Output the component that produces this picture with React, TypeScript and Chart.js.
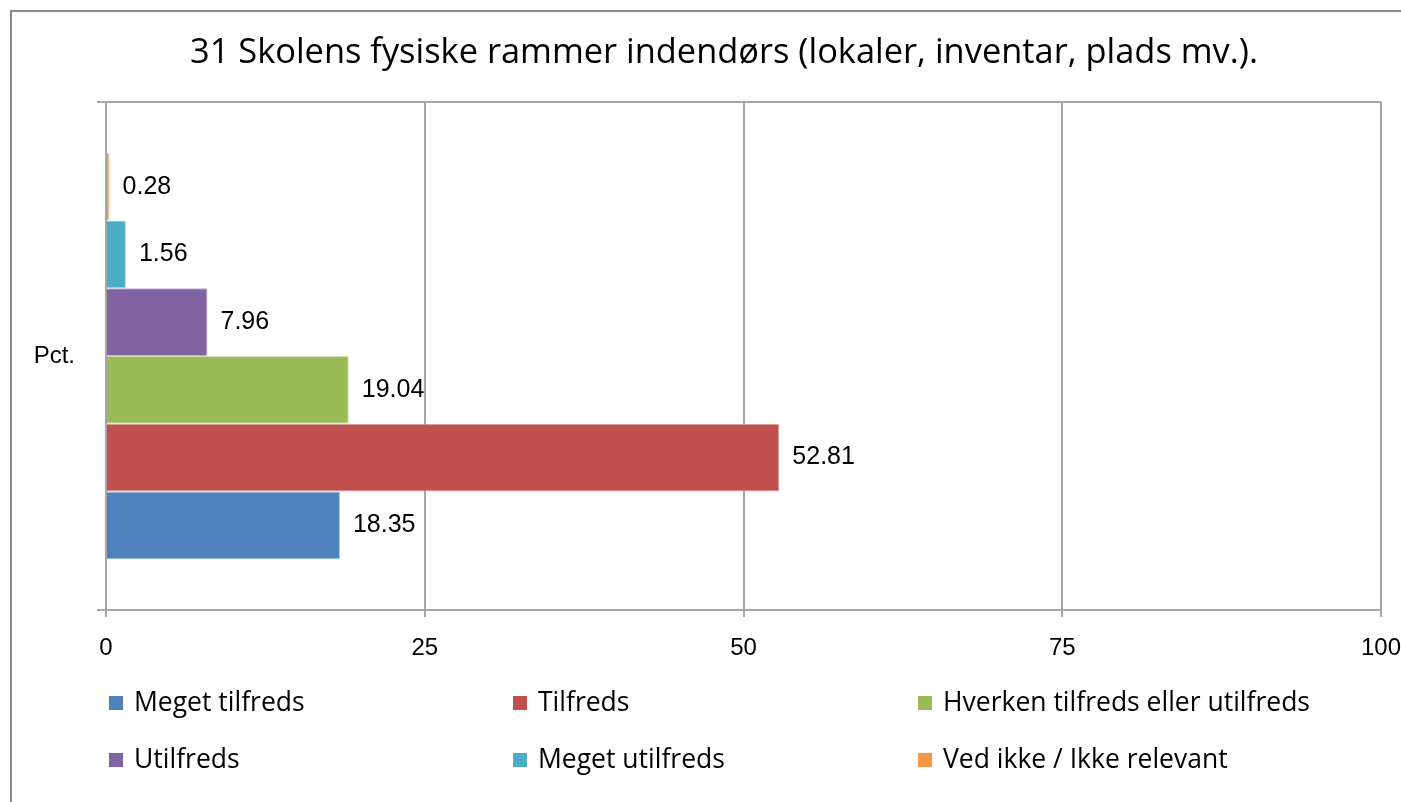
import React, { useEffect, useRef } from "react";
import { Chart, registerables } from "chart.js";

Chart.register(...registerables);

const TITLE = "31 Skolens fysiske rammer indendørs (lokaler, inventar, plads mv.).";
const CATEGORIES = ["Pct."];
const SERIES_LABELS = [
  "Meget tilfreds",
  "Tilfreds",
  "Hverken tilfreds eller utilfreds",
  "Utilfreds",
  "Meget utilfreds",
  "Ved ikke / Ikke relevant",
];
const SERIES_VALUES = [18.35, 52.81, 19.04, 7.96, 1.56, 0.28];
const SERIES_COLORS = ["#4F81BD", "#C0504D", "#9BBB59", "#8064A2", "#4BACC6", "#F79646"];
const SERIES_EDGES = ["#A9C0DE", "#E0A8A6", "#CDDDAC", "#BFB2D0", "#A5D5E2", "#FBCAA2"];
const X_TICKS = [0, 25, 50, 75, 100];

const GRID = "#A6A6A6";

const overlayPlugin = {
  id: "overlay",
  beforeDraw(chart: any) {
    const ctx = chart.ctx;
    ctx.save();
    ctx.strokeStyle = "#8C8C8C";
    ctx.lineWidth = 2;
    ctx.beginPath();
    ctx.moveTo(11, 802);
    ctx.lineTo(11, 11);
    ctx.lineTo(1401, 11);
    ctx.stroke();
    ctx.restore();
  },
  afterDatasetsDraw(chart: any) {
    const ctx = chart.ctx;
    ctx.save();
    ctx.font = "25px 'Liberation Sans', Arial, sans-serif";
    ctx.fillStyle = "#000";
    ctx.textAlign = "left";
    ctx.textBaseline = "middle";
    chart.data.datasets.forEach((ds: any, i: number) => {
      const meta = chart.getDatasetMeta(i);
      meta.data.forEach((bar: any, j: number) => {
        const v = ds.data[j];
        ctx.fillText(v.toFixed(2), bar.x + 13, bar.y);
      });
    });
    ctx.restore();
  },
  afterDraw(chart: any) {
    const ctx = chart.ctx;
    ctx.save();
    // title
    ctx.font = "34.4px 'Open Sans', sans-serif";
    ctx.fillStyle = "#000";
    ctx.textAlign = "center";
    ctx.textBaseline = "middle";
    ctx.fillText(TITLE, 724, 53);
    // legend
    ctx.font = "26.5px 'Open Sans', sans-serif";
    ctx.textAlign = "left";
    const colX = [109, 513, 918];
    const rowY = [703, 760];
    SERIES_LABELS.forEach((label, i) => {
      const x = colX[i % 3];
      const y = rowY[Math.floor(i / 3)];
      ctx.fillStyle = SERIES_COLORS[i];
      ctx.fillRect(x, y - 7, 14, 14);
      ctx.fillStyle = "#000";
      ctx.fillText(label, x + 25, y);
    });
    ctx.restore();
  },
};

export default function App() {
  const canvasRef = useRef<HTMLCanvasElement | null>(null);

  useEffect(() => {
    if (!canvasRef.current) return;
    const order = SERIES_LABELS.map((_, i) => i).reverse();
    const chart = new Chart(canvasRef.current, {
      type: "bar",
      data: {
        labels: CATEGORIES,
        datasets: order.map((i) => ({
          label: SERIES_LABELS[i],
          data: [SERIES_VALUES[i]],
          backgroundColor: SERIES_COLORS[i],
          borderColor: SERIES_EDGES[i],
          borderWidth: 1,
          barPercentage: 1,
          categoryPercentage: 0.8,
        })),
      },
      options: {
        indexAxis: "y",
        animation: false,
        responsive: true,
        maintainAspectRatio: false,
        layout: { padding: { left: 0, top: 102, right: 20, bottom: 0 } },
        plugins: {
          legend: { display: false },
          title: { display: false },
          tooltip: { enabled: false },
        },
        scales: {
          x: {
            min: 0,
            max: 100,
            afterBuildTicks: (scale: any) => {
              scale.ticks = X_TICKS.map((v) => ({ value: v }));
            },
            afterFit: (scale: any) => {
              scale.height = 192;
              scale.paddingLeft = 0;
              scale.paddingRight = 0;
            },
            grid: { color: GRID, lineWidth: 2, tickLength: 7 },
            border: { color: GRID, width: 2 },
            ticks: {
              color: "#000",
              padding: 17,
              font: { family: "'Liberation Sans', Arial, sans-serif", size: 24 },
              maxRotation: 0,
            },
          },
          y: {
            afterFit: (scale: any) => {
              scale.width = 106;
              scale.paddingTop = 0;
              scale.paddingBottom = 0;
            },
            grid: { color: GRID, lineWidth: 2, tickLength: 9, offset: true },
            border: { color: GRID, width: 2 },
            ticks: {
              color: "#000",
              padding: 22,
              font: { family: "'Liberation Sans', Arial, sans-serif", size: 24 },
            },
          },
        },
      },
      plugins: [overlayPlugin],
    });
    return () => chart.destroy();
  }, []);

  return (
    <div style={{ position: "absolute", left: 0, top: 0, width: 1401, height: 802, background: "#fff" }}>
      <canvas ref={canvasRef} />
    </div>
  );
}
